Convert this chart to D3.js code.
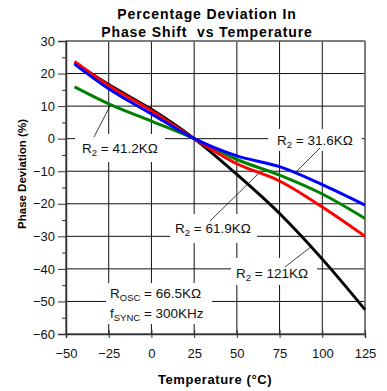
<!DOCTYPE html>
<html><head><meta charset="utf-8">
<script src="https://cdn.jsdelivr.net/npm/d3@7"></script>
<style>
html,body{margin:0;padding:0;background:#fff;}
svg{display:block;font-family:"Liberation Sans",Arial,sans-serif;}
</style></head>
<body><svg id="c" width="387" height="391"></svg>
<script>
const temps = [-45, -25, 0, 25, 50, 75, 100, 125];
const r121 = [23.3, 16.6, 9.0, 0, -11, -23, -37, -52.5];
const r619 = [23.7, 16.3, 8.6, 0, -7.7, -13, -21, -30];
const r412 = [15.9, 10.7, 5.4, 0, -6.4, -11.2, -17, -24.5];
const r316 = [22.9, 15.3, 7.6, 0, -5.3, -8.6, -14.1, -20.4];
const xTicks = [-50, -25, 0, 25, 50, 75, 100, 125];
const yTicks = [30, 20, 10, 0, -10, -20, -30, -40, -50, -60];
const yMinor = [25, 15, 5, -5, -15, -25, -35, -45, -55];

const svg = d3.select("#c");
const x = d3.scaleLinear().domain([-50, 125]).range([66, 365]);
const y = d3.scaleLinear().domain([-60, 30]).range([334, 41]);

// grid
const g = svg.append("g");
g.selectAll("line.v").data(xTicks).join("line")
  .attr("x1", d => x(d)).attr("x2", d => x(d)).attr("y1", y(30)).attr("y2", y(-60))
  .attr("stroke", "#111").attr("stroke-width", 1);
g.selectAll("line.h").data(yTicks).join("line")
  .attr("y1", d => y(d)).attr("y2", d => y(d)).attr("x1", x(-50)).attr("x2", x(125))
  .attr("stroke", "#111").attr("stroke-width", 1);
svg.append("line").attr("x1", x(-50)).attr("x2", x(125)).attr("y1", y(30)).attr("y2", y(30)).attr("stroke", "#777").attr("stroke-width", 1.5);
svg.append("line").attr("x1", x(125)).attr("x2", x(125)).attr("y1", y(30)).attr("y2", y(-60)).attr("stroke", "#777").attr("stroke-width", 1.5);

// axes
const yAxis = d3.axisLeft(y).tickValues(yTicks).tickSize(8).tickPadding(3).tickFormat(d3.format("d"));
const ya = svg.append("g").attr("transform", `translate(${x(-50)},0)`).call(yAxis);
svg.append("g").attr("transform", `translate(${x(-50)},0)`)
  .call(d3.axisLeft(y).tickValues(yMinor).tickSize(4).tickFormat(""))
  .call(s => s.select(".domain").remove());
const xAxis = d3.axisBottom(x).tickValues(xTicks).tickSize(4).tickPadding(11).tickFormat(d3.format("d"));
const xa = svg.append("g").attr("transform", `translate(0,${y(-60)})`).call(xAxis);
xa.selectAll(".tick line").attr("y1", -4);
[ya, xa].forEach(a => {
  a.select(".domain").attr("stroke", "#333").attr("stroke-width", 1.5);
  a.selectAll("text").attr("font-size", 13).attr("fill", "#111").attr("font-family", "Liberation Sans, Arial, sans-serif");
});
svg.selectAll(".tick line").attr("stroke", "#333");

// label boxes (white) drawn over grid
const boxes = [[75, 134, 90, 28], [268, 129, 94, 22], [170, 214, 87, 29], [231, 258, 86, 27], [106, 283, 106, 41]];
svg.selectAll("rect.b").data(boxes).join("rect")
  .attr("x", d => d[0]).attr("y", d => d[1]).attr("width", d => d[2]).attr("height", d => d[3]).attr("fill", "#fff");

// leader lines
const leaders = [[94, 137, 110, 106], [320, 148, 296, 172], [210, 221, 258, 174], [285, 267, 312, 246]];
svg.selectAll("line.l").data(leaders).join("line")
  .attr("x1", d => d[0]).attr("y1", d => d[1]).attr("x2", d => d[2]).attr("y2", d => d[3])
  .attr("stroke", "#111").attr("stroke-width", 0.8);

// series
const series = [
  {v: r121, c: "#000000"},
  {v: r412, c: "#008000"},
  {v: r619, c: "#ff0000"},
  {v: r316, c: "#0000ff"}
];
const line = d3.line().x((d, i) => x(temps[i])).y(d => y(d)).curve(d3.curveMonotoneX);
svg.selectAll("path.s").data(series).join("path")
  .attr("d", d => line(d.v)).attr("fill", "none").attr("stroke", d => d.c).attr("stroke-width", 3);

// annotations
function rlabel(px, py, main, sub, rest) {
  const t = svg.append("text").attr("x", px).attr("y", py).attr("font-size", 13.5).attr("fill", "#111");
  t.append("tspan").text(main);
  t.append("tspan").attr("font-size", 9.5).attr("dy", 3).text(sub);
  t.append("tspan").attr("dy", -3).text(rest);
  return t;
}
rlabel(82, 153, "R", "2", " = 41.2KΩ");
rlabel(277, 145, "R", "2", " = 31.6KΩ");
rlabel(175, 233, "R", "2", " = 61.9KΩ");
rlabel(236, 278, "R", "2", " = 121KΩ");
rlabel(110, 298, "R", "OSC", " = 66.5KΩ");
rlabel(110, 318, "f", "SYNC", " = 300KHz");

// titles
svg.append("text").attr("x", 207).attr("y", 19).attr("text-anchor", "middle").attr("font-size", 14).attr("letter-spacing", 0.9).attr("font-weight", "bold").text("Percentage Deviation In");
svg.append("text").attr("x", 207).attr("y", 37).attr("text-anchor", "middle").attr("font-size", 14).attr("letter-spacing", 0.9).attr("font-weight", "bold").attr("xml:space", "preserve").text("Phase Shift  vs Temperature");
svg.append("text").attr("x", 215).attr("y", 384).attr("text-anchor", "middle").attr("font-size", 13).attr("letter-spacing", 0.6).attr("font-weight", "bold").text("Temperature (°C)");
svg.append("text").attr("transform", "translate(26,174) rotate(-90)").attr("text-anchor", "middle").attr("font-size", 11.5).attr("font-weight", "bold").text("Phase Deviation (%)");
</script></body></html>
